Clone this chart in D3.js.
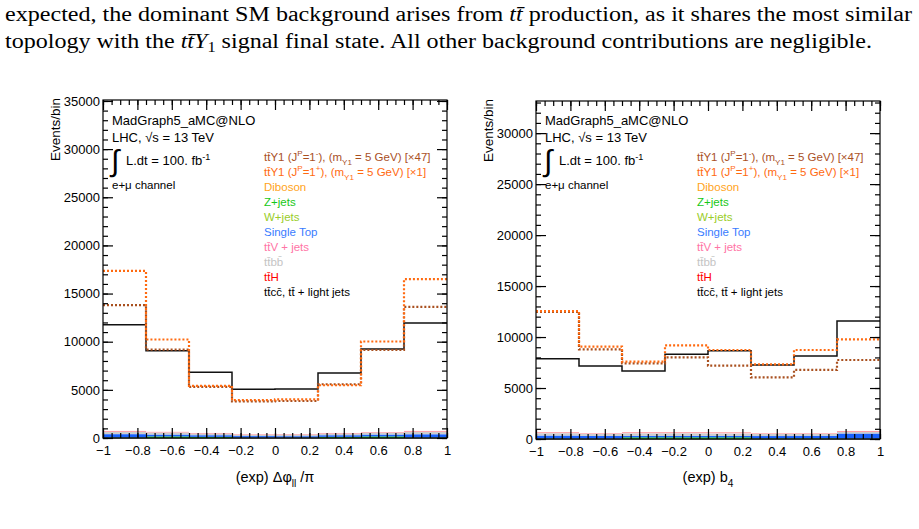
<!DOCTYPE html>
<html>
<head>
<meta charset="utf-8">
<script src="https://cdn.jsdelivr.net/npm/d3@7"></script>
<style>
  body { margin: 0; background: #fff; }
  svg { display: block; }
</style>
</head>
<body>
<svg id="fig" width="919" height="529"></svg>
<script>
// Binning and axis ticks shared by both plots
const binEdges = [-1, -0.75, -0.5, -0.25, 0, 0.25, 0.5, 0.75, 1];
const xTickValues = [-1, -0.8, -0.6, -0.4, -0.2, 0, 0.2, 0.4, 0.6, 0.8, 1];
const yTicksDphi = [0, 5000, 10000, 15000, 20000, 25000, 30000, 35000];
const yTicksB4 = [0, 5000, 10000, 15000, 20000, 25000, 30000];

// Stack order, bottom to top
const bkgKeys = ["diboson", "wjets", "zjets", "singleTop", "ttbb", "ttV", "ttH", "ttLight"];

// (exp) delta phi_ll / pi
const dphiDiboson = [20, 20, 20, 20, 20, 20, 20, 20];
const dphiWjets = [10, 10, 10, 10, 10, 10, 10, 10];
const dphiZjets = [30, 130, 90, 20, 20, 90, 130, 30];
const dphiSingleTop = [340, 200, 170, 150, 140, 170, 200, 330];
const dphiTtbb = [230, 200, 160, 120, 140, 160, 180, 240];
const dphiTtV = [70, 50, 50, 40, 40, 50, 50, 70];
const dphiTtH = [30, 20, 20, 20, 20, 20, 20, 30];
const dphiTtLight = [11030, 8430, 6310, 4670, 4695, 6240, 8620, 11220];
const dphiSigMinus = [13790, 9180, 5300, 3800, 3840, 5580, 9140, 13610];  // x47
const dphiSigPlus = [17350, 10230, 5410, 3940, 4010, 5480, 10020, 16500];

// (exp) b4
const b4Diboson = [20, 20, 20, 20, 20, 20, 20, 20];
const b4Wjets = [10, 10, 10, 10, 10, 10, 10, 10];
const b4Zjets = [20, 20, 130, 130, 130, 40, 40, 20];
const b4SingleTop = [290, 250, 150, 150, 150, 220, 250, 490];
const b4Ttbb = [230, 200, 250, 250, 230, 200, 170, 150];
const b4TtV = [50, 40, 60, 60, 60, 40, 40, 60];
const b4TtH = [30, 20, 30, 30, 30, 20, 20, 30];
const b4TtLight = [7230, 6600, 6020, 7650, 8020, 6710, 7590, 10790];
const b4SigMinus = [12460, 8800, 7420, 8010, 7190, 6050, 6770, 7750];
const b4SigPlus = [12550, 9060, 7590, 9190, 8730, 7320, 8730, 9780];

const fillColors = {
    diboson: "#ffa31a", wjets: "#a0d020", zjets: "#00c000", singleTop: "#1a62ff",
    ttbb: "#cdcdcd", ttV: "#ffc0d2", ttH: "#ff2020", ttLight: "none"
};
const brown = "#a9501f";
const orange = "#ff6a10";

const svg = d3.select("#fig");
const sans = "'Liberation Sans', Arial, Helvetica, sans-serif";

// Draw text made of pieces; "sup"/"sub" pieces get shifted and shrunk
function richText(g, x, y, parts, size, color) {
    const t = g.append("text")
        .attr("x", x).attr("y", y)
        .attr("font-family", sans)
        .attr("font-size", size)
        .attr("fill", color);
    let shift = 0;
    parts.forEach(p => {
        const [str, kind] = Array.isArray(p) ? p : [p, null];
        let target = 0;
        if (kind === "sup") target = -size * 0.42;
        if (kind === "sub") target = size * 0.32;
        t.append("tspan")
            .attr("dy", target - shift)
            .attr("font-size", kind ? size * 0.7 : size)
            .text(str);
        shift = target;
    });
    return t;
}

// ---- paper text above the figure ----
const para = svg.append("g")
    .attr("font-family", "'Liberation Serif', 'Times New Roman', 'DejaVu Serif', serif")
    .attr("font-size", 20.5)
    .attr("fill", "#000");

const l1 = para.append("text").attr("x", 5).attr("y", 21)
    .attr("textLength", 907).attr("lengthAdjust", "spacingAndGlyphs");
l1.append("tspan").text("expected, the dominant SM background arises from ");
l1.append("tspan").attr("font-style", "italic").text("tt\u0304");
l1.append("tspan").text(" production, as it shares the most similar");

const l2 = para.append("text").attr("x", 5).attr("y", 48)
    .attr("textLength", 867).attr("lengthAdjust", "spacingAndGlyphs");
l2.append("tspan").text("topology with the ");
l2.append("tspan").attr("font-style", "italic").text("tt\u0304Y");
l2.append("tspan").attr("font-size", 14).attr("dy", 4).text("1");
l2.append("tspan").attr("dy", -4).text(" signal final state. All other background contributions are negligible.");

// ---- one histogram panel ----
function drawPanel(o) {
    const x = d3.scaleLinear().domain([-1, 1]).range([o.left, o.right]);
    const y = d3.scaleLinear().domain([0, o.yMax]).range([o.bottom, o.top]);
    const g = svg.append("g");

    // bottom frame line under the stack
    g.append("line")
        .attr("x1", o.left).attr("x2", o.right)
        .attr("y1", o.bottom).attr("y2", o.bottom)
        .attr("stroke", "#000").attr("stroke-width", 1);

    // stacked backgrounds
    const rows = o.bkg.ttLight.map((_, i) => {
        const r = {};
        bkgKeys.forEach(k => r[k] = o.bkg[k][i]);
        return r;
    });
    const layers = d3.stack().keys(bkgKeys)(rows);

    layers.forEach(layer => {
        if (layer.key === "ttLight") return;
        g.append("g").selectAll("rect")
            .data(layer)
            .join("rect")
            .attr("x", (d, i) => x(binEdges[i]))
            .attr("width", (d, i) => x(binEdges[i + 1]) - x(binEdges[i]))
            .attr("y", d => y(d[1]))
            .attr("height", d => y(d[0]) - y(d[1]))
            .attr("fill", fillColors[layer.key]);
    });

    const step = d3.line()
        .x(d => x(d[0]))
        .y(d => y(d[1]))
        .curve(d3.curveStepAfter);
    const stepPoints = vals => {
        const pts = vals.map((v, i) => [binEdges[i], v]);
        pts.push([binEdges[binEdges.length - 1], vals[vals.length - 1]]);
        return pts;
    };

    // total (top of the stack) as a black step line
    const top = layers[layers.length - 1].map(d => d[1]);
    g.append("path")
        .attr("d", step(stepPoints(top)))
        .attr("fill", "none")
        .attr("stroke", "#111")
        .attr("stroke-width", 1.5);

    // signal curves, dotted
    g.append("path")
        .attr("d", step(stepPoints(o.sigMinus)))
        .attr("fill", "none")
        .attr("stroke", brown)
        .attr("stroke-width", 2.2)
        .attr("stroke-dasharray", "2 2");
    g.append("path")
        .attr("d", step(stepPoints(o.sigPlus)))
        .attr("fill", "none")
        .attr("stroke", orange)
        .attr("stroke-width", 2.2)
        .attr("stroke-dasharray", "2 2");

    // frame
    g.append("rect")
        .attr("x", o.left).attr("y", o.top)
        .attr("width", o.right - o.left).attr("height", o.bottom - o.top)
        .attr("fill", "none").attr("stroke", "#000").attr("stroke-width", 1.2);

    // ticks on all four sides
    const xMinor = d3.range(-1, 1.0001, 0.05);
    const yMinor = d3.range(0, o.yMax, 1000);
    const styleAxis = a => {
        a.select(".domain").remove();
        a.selectAll("line").attr("stroke", "#000").attr("stroke-width", 1.2);
        a.attr("font-family", sans).attr("font-size", 13);
        a.selectAll("text").attr("fill", "#000");
    };

    g.append("g").attr("transform", `translate(0,${o.bottom})`)
        .call(d3.axisBottom(x).tickValues(xMinor).tickSize(-5).tickFormat(""))
        .call(styleAxis);
    g.append("g").attr("transform", `translate(0,${o.bottom})`)
        .call(d3.axisBottom(x).tickValues(xTickValues).tickSize(-10)
            .tickPadding(8).tickFormat(d3.format("~g")))
        .call(styleAxis);
    g.append("g").attr("transform", `translate(0,${o.top})`)
        .call(d3.axisTop(x).tickValues(xMinor).tickSize(-5).tickFormat(""))
        .call(styleAxis);
    g.append("g").attr("transform", `translate(0,${o.top})`)
        .call(d3.axisTop(x).tickValues(xTickValues).tickSize(-10).tickFormat(""))
        .call(styleAxis);

    g.append("g").attr("transform", `translate(${o.left},0)`)
        .call(d3.axisLeft(y).tickValues(yMinor).tickSize(-5).tickFormat(""))
        .call(styleAxis);
    g.append("g").attr("transform", `translate(${o.left},0)`)
        .call(d3.axisLeft(y).tickValues(o.yTicks).tickSize(-10)
            .tickPadding(3).tickFormat(d3.format("d")))
        .call(styleAxis);
    g.append("g").attr("transform", `translate(${o.right},0)`)
        .call(d3.axisRight(y).tickValues(yMinor).tickSize(-5).tickFormat(""))
        .call(styleAxis);
    g.append("g").attr("transform", `translate(${o.right},0)`)
        .call(d3.axisRight(y).tickValues(o.yTicks).tickSize(-10).tickFormat(""))
        .call(styleAxis);

    // axis titles
    g.append("text")
        .attr("transform", `translate(${o.left - 43},${o.top - 2}) rotate(-90)`)
        .attr("text-anchor", "end")
        .attr("font-family", sans).attr("font-size", 13.5)
        .text("Events/bin");
    const xt = richText(g, (o.left + o.right) / 2, 482, o.xTitle, 14.5, "#000");
    xt.attr("text-anchor", "middle");

    // generator / luminosity block
    const ax = o.left + 9;
    richText(g, ax, 125, ["MadGraph5_aMC@NLO"], 13, "#000");
    richText(g, ax, 142, ["LHC, \u221As = 13 TeV"], 13, "#000");
    g.append("text")
        .attr("x", ax - 1).attr("y", 171)
        .attr("font-family", sans)
        .attr("font-size", 30)
        .text("\u222B");
    richText(g, ax + 14, 165, ["L.dt = 100. fb", ["-1", "sup"]], 13, "#000");
    richText(g, ax, 189, ["e+\u03BC channel"], 11.5, "#000");

    // legend (coloured text only)
    const lx = o.left + 161;
    const legend = [
        [["t", "t\u0304Y1 (J", ["P", "sup"], "=1", ["-", "sup"], "), (m", ["Y1", "sub"], " = 5 GeV) [\u00D747]"], brown],
        [["t", "t\u0304Y1 (J", ["P", "sup"], "=1", ["+", "sup"], "), (m", ["Y1", "sub"], " = 5 GeV) [\u00D71]"], orange],
        [["Diboson"], "#ffa31a"],
        [["Z+jets"], "#16c816"],
        [["W+jets"], "#9acd2a"],
        [["Single Top"], "#3a7cff"],
        [["tt\u0304V + jets"], "#ff74a6"],
        [["tt\u0304bb\u0304"], "#c4c4c4"],
        [["tt\u0304H"], "#ff0000"],
        [["tt\u0304cc\u0304, tt\u0304 + light jets"], "#000"]
    ];
    legend.forEach((e, i) => richText(g, lx, 161 + i * 15, e[0], 11.5, e[1]));
}

drawPanel({
    left: 103, right: 447, top: 100, bottom: 438, yMax: 35100,
    yTicks: yTicksDphi,
    bkg: {
        diboson: dphiDiboson, wjets: dphiWjets, zjets: dphiZjets, singleTop: dphiSingleTop,
        ttbb: dphiTtbb, ttV: dphiTtV, ttH: dphiTtH, ttLight: dphiTtLight
    },
    sigMinus: dphiSigMinus, sigPlus: dphiSigPlus,
    xTitle: ["(exp) \u0394\u03C6", ["ll", "sub"], " /\u03C0"]
});

drawPanel({
    left: 536, right: 880, top: 101, bottom: 439, yMax: 33150,
    yTicks: yTicksB4,
    bkg: {
        diboson: b4Diboson, wjets: b4Wjets, zjets: b4Zjets, singleTop: b4SingleTop,
        ttbb: b4Ttbb, ttV: b4TtV, ttH: b4TtH, ttLight: b4TtLight
    },
    sigMinus: b4SigMinus, sigPlus: b4SigPlus,
    xTitle: ["(exp) b", ["4", "sub"]]
});
</script>
</body>
</html>
